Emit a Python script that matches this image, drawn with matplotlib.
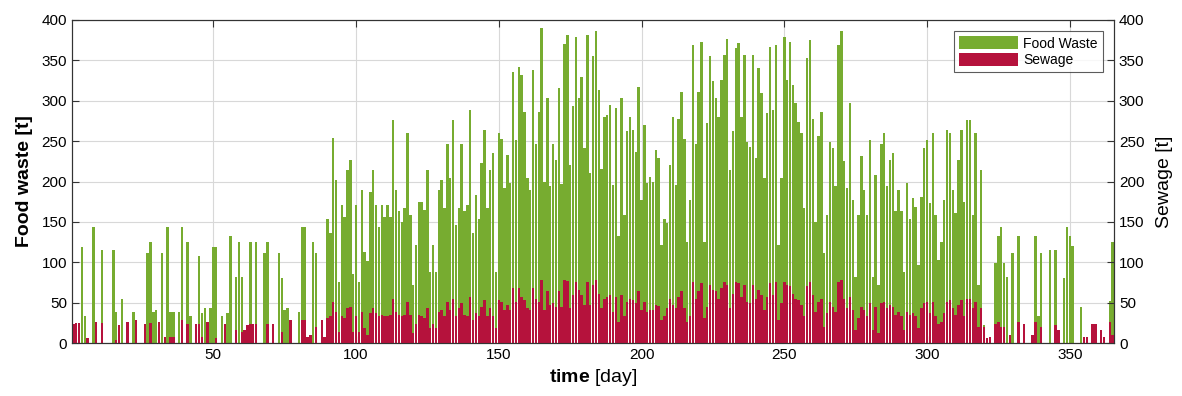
import numpy as np
import matplotlib.pyplot as plt

# daily values, day 1..365
food_waste = [
    0, 0, 0, 119, 33, 0, 0, 144, 0, 0,
    115, 0, 0, 0, 115, 39, 0, 55, 0, 0,
    0, 39, 0, 0, 0, 0, 111, 125, 39, 41,
    0, 111, 0, 144, 39, 39, 0, 39, 144, 0,
    125, 33, 0, 0, 108, 37, 43, 0, 43, 119,
    119, 0, 33, 0, 37, 132, 0, 82, 125, 82,
    0, 0, 125, 0, 125, 0, 0, 111, 125, 0,
    0, 0, 111, 80, 41, 43, 0, 0, 0, 39,
    144, 144, 0, 0, 125, 111, 0, 0, 0, 154,
    136, 254, 202, 76, 171, 156, 214, 227, 86, 171,
    76, 190, 113, 101, 187, 214, 171, 144, 171, 156,
    171, 156, 276, 189, 163, 150, 167, 260, 159, 72,
    121, 175, 175, 165, 214, 88, 121, 88, 189, 202,
    167, 247, 204, 276, 146, 167, 246, 163, 171, 289,
    136, 183, 154, 223, 264, 167, 214, 235, 88, 260,
    253, 192, 233, 198, 336, 251, 342, 332, 286, 204,
    189, 338, 247, 286, 390, 200, 303, 194, 247, 227,
    316, 197, 370, 381, 220, 293, 379, 303, 330, 241,
    381, 210, 355, 386, 313, 216, 280, 282, 295, 196,
    291, 132, 303, 159, 262, 280, 264, 237, 317, 177,
    270, 198, 206, 200, 239, 229, 121, 154, 148, 220,
    280, 196, 278, 311, 253, 125, 177, 369, 247, 311,
    373, 125, 272, 355, 324, 303, 280, 326, 357, 377,
    214, 262, 365, 371, 280, 357, 249, 243, 357, 229,
    341, 310, 204, 285, 367, 289, 369, 121, 204, 379,
    326, 373, 320, 297, 274, 260, 167, 353, 375, 278,
    150, 256, 286, 111, 159, 249, 241, 194, 369, 386,
    225, 192, 297, 177, 82, 159, 231, 190, 158, 251,
    82, 208, 72, 247, 260, 194, 227, 235, 163, 189,
    163, 88, 198, 154, 179, 169, 97, 181, 241, 251,
    173, 260, 159, 103, 125, 177, 264, 260, 189, 161,
    227, 264, 175, 276, 276, 159, 260, 72, 214, 22,
    0, 0, 0, 99, 132, 144, 99, 82, 0, 111,
    0, 132, 0, 0, 0, 0, 0, 132, 33, 111,
    0, 0, 115, 0, 115, 0, 0, 80, 144, 132,
    120, 0, 0, 45, 0, 0, 0, 0, 0, 0,
    0, 0, 0, 52, 125,
]

sewage = [
    24, 25, 25, 0, 0, 6, 0, 0, 26, 0,
    25, 0, 0, 0, 0, 4, 22, 0, 0, 26,
    0, 0, 28, 0, 0, 24, 0, 25, 0, 0,
    26, 0, 8, 0, 8, 8, 0, 0, 28, 0,
    24, 0, 0, 24, 24, 8, 0, 26, 0, 0,
    6, 0, 0, 24, 0, 0, 0, 16, 0, 14,
    16, 22, 24, 24, 24, 0, 0, 0, 24, 0,
    24, 0, 0, 14, 0, 0, 28, 0, 0, 0,
    28, 28, 8, 10, 0, 20, 0, 28, 8, 31,
    33, 51, 39, 14, 33, 31, 43, 45, 14, 33,
    14, 39, 18, 10, 37, 43, 37, 33, 35, 33,
    33, 35, 55, 39, 35, 33, 35, 51, 35, 12,
    24, 35, 33, 31, 43, 18, 24, 18, 39, 41,
    33, 51, 41, 55, 33, 43, 49, 35, 33, 57,
    28, 37, 33, 45, 53, 33, 43, 33, 18, 53,
    51, 41, 47, 41, 68, 51, 68, 57, 53, 43,
    41, 68, 55, 51, 78, 41, 64, 47, 49, 45,
    64, 45, 78, 77, 43, 59, 76, 66, 59, 47,
    76, 47, 72, 78, 61, 43, 55, 57, 59, 39,
    57, 26, 59, 33, 51, 55, 53, 49, 64, 41,
    51, 39, 41, 41, 47, 46, 28, 34, 43, 55,
    47, 43, 57, 64, 43, 26, 33, 76, 55, 64,
    74, 31, 45, 72, 66, 64, 55, 68, 76, 72,
    43, 61, 76, 74, 57, 72, 51, 49, 72, 55,
    66, 60, 41, 57, 74, 59, 76, 28, 50, 76,
    72, 70, 61, 55, 53, 47, 33, 70, 76, 59,
    39, 51, 55, 20, 37, 51, 45, 39, 76, 78,
    55, 43, 57, 41, 16, 31, 45, 41, 33, 49,
    16, 45, 12, 49, 51, 43, 47, 45, 35, 39,
    33, 16, 39, 35, 37, 33, 18, 43, 49, 51,
    37, 51, 33, 24, 26, 37, 51, 53, 43, 35,
    47, 53, 33, 55, 55, 43, 51, 20, 43, 20,
    6, 8, 0, 24, 26, 20, 20, 0, 10, 0,
    0, 26, 0, 24, 0, 0, 10, 26, 0, 20,
    0, 0, 0, 0, 22, 16, 0, 0, 0, 0,
    0, 0, 0, 0, 8, 8, 0, 24, 24, 0,
    16, 8, 0, 26, 10,
]

days = np.arange(1, len(food_waste) + 1)

plt.rcParams['font.family'] = ['Liberation Sans', 'DejaVu Sans']
plt.rcParams['mathtext.fontset'] = 'custom'
plt.rcParams['mathtext.rm'] = 'Liberation Sans'
plt.rcParams['mathtext.bf'] = 'Liberation Sans:bold'

fig = plt.figure(figsize=(11.82, 3.96), dpi=100)
ax = fig.add_axes([0.0609, 0.1338, 0.8816, 0.8157])
ax2 = ax.twinx()

green = '#77AC30'
red = '#B5123C'

h1 = ax.bar(days, food_waste, width=0.85, color=green, edgecolor='none', label='Food Waste', zorder=2)
h2 = ax2.bar(days, sewage, width=0.85, color=red, edgecolor='none', label='Sewage', zorder=2)

for a in (ax, ax2):
    a.set_ylim(0, 400)
    a.set_yticks(np.arange(0, 401, 50))
    a.tick_params(direction='in', labelsize=11, length=5, color='#333333')
ax.set_xlim(0.5, 365.5)
ax.set_xticks(np.arange(50, 351, 50))
ax.tick_params(axis='x', top=True)
ax.grid(True, color='#d8d8d8', linewidth=0.8, zorder=0)
ax.set_axisbelow(True)

for a in (ax, ax2):
    for s in a.spines.values():
        s.set_color('#333333')
        s.set_linewidth(0.8)

ax.set_ylabel('Food waste [t]', fontsize=14, fontweight='bold', labelpad=6)
ax2.set_ylabel('Sewage [t]', fontsize=14, labelpad=8)
ax.set_xlabel(r'$\mathbf{time}$ [day]', fontsize=14, labelpad=4)

leg = ax2.legend(handles=[h1, h2], loc='upper right', bbox_to_anchor=(0.989, 0.965),
                 fontsize=10, frameon=True, fancybox=False, edgecolor='#333333',
                 handlelength=4.2, handleheight=1.1, handletextpad=0.4,
                 borderpad=0.35, labelspacing=0.15, borderaxespad=0)
leg.get_frame().set_linewidth(0.8)

fig.savefig('out.png', dpi=100)
